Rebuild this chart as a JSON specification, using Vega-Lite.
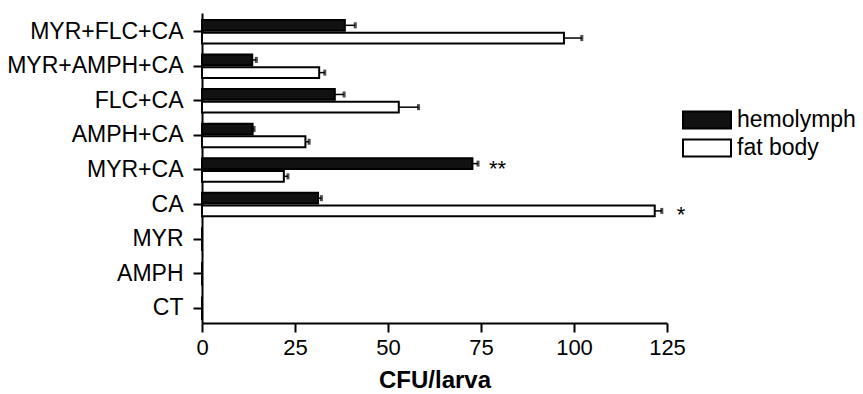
{
  "$schema": "https://vega.github.io/schema/vega-lite/v6.json",
  "width": 465,
  "height": 310,
  "autosize": "none",
  "padding": {"left": 202, "top": 13, "right": 196, "bottom": 71},
  "background": "white",
  "config": {
    "view": {"stroke": null},
    "font": "Liberation Sans",
    "axis": {
      "grid": false,
      "domainColor": "black",
      "domainWidth": 2,
      "tickColor": "black",
      "tickWidth": 2,
      "tickSize": 9,
      "labelColor": "black",
      "labelFont": "Liberation Sans",
      "labelFontSize": 23,
      "titleColor": "black",
      "titleFont": "Liberation Sans"
    }
  },
  "data": {
    "values": [
      {"cond": "MYR+FLC+CA", "series": "hemolymph", "value": 38.4, "err": 41.2, "sig": ""},
      {"cond": "MYR+FLC+CA", "series": "fat body", "value": 97.3, "err": 102.1, "sig": ""},
      {"cond": "MYR+AMPH+CA\u00a0", "series": "hemolymph", "value": 13.5, "err": 14.6, "sig": ""},
      {"cond": "MYR+AMPH+CA\u00a0", "series": "fat body", "value": 31.5, "err": 33.0, "sig": ""},
      {"cond": "FLC+CA", "series": "hemolymph", "value": 35.7, "err": 38.2, "sig": ""},
      {"cond": "FLC+CA", "series": "fat body", "value": 52.9, "err": 58.2, "sig": ""},
      {"cond": "AMPH+CA", "series": "hemolymph", "value": 13.6, "err": 14.0, "sig": ""},
      {"cond": "AMPH+CA", "series": "fat body", "value": 27.8, "err": 28.8, "sig": ""},
      {"cond": "MYR+CA", "series": "hemolymph", "value": 72.7, "err": 74.2, "sig": "**"},
      {"cond": "MYR+CA", "series": "fat body", "value": 22.0, "err": 23.1, "sig": ""},
      {"cond": "CA", "series": "hemolymph", "value": 31.2, "err": 32.1, "sig": ""},
      {"cond": "CA", "series": "fat body", "value": 121.7, "err": 123.6, "sig": "*"},
      {"cond": "MYR", "series": "hemolymph", "value": 0, "err": 0, "sig": ""},
      {"cond": "MYR", "series": "fat body", "value": 0, "err": 0, "sig": ""},
      {"cond": "AMPH", "series": "hemolymph", "value": 0, "err": 0, "sig": ""},
      {"cond": "AMPH", "series": "fat body", "value": 0, "err": 0, "sig": ""},
      {"cond": "CT", "series": "hemolymph", "value": 0, "err": 0, "sig": ""},
      {"cond": "CT", "series": "fat body", "value": 0, "err": 0, "sig": ""}
    ]
  },
  "encoding": {
    "y": {
      "field": "cond",
      "type": "nominal",
      "sort": ["MYR+FLC+CA", "MYR+AMPH+CA\u00a0", "FLC+CA", "AMPH+CA", "MYR+CA", "CA", "MYR", "AMPH", "CT"],
      "scale": {"paddingInner": 0.32, "paddingOuter": 0.143, "align": 0.7},
      "axis": {"title": null, "labelPadding": 10}
    },
    "yOffset": {
      "field": "series",
      "type": "nominal",
      "sort": ["hemolymph", "fat body"],
      "scale": {"paddingInner": 0.15, "paddingOuter": 0}
    }
  },
  "layer": [
    {
      "mark": {"type": "bar", "stroke": "black", "strokeWidth": 2},
      "encoding": {
        "x": {
          "field": "value",
          "type": "quantitative",
          "scale": {"domain": [0, 125], "nice": false, "zero": true},
          "axis": {
            "values": [0, 25, 50, 75, 100, 125],
            "title": "CFU/larva",
            "titleFontSize": 24,
            "titleFontWeight": "bold",
            "titlePadding": 10,
            "labelPadding": 5,
            "labelFontSize": 22,
            "labelFlush": false
          }
        },
        "fill": {
          "field": "series",
          "type": "nominal",
          "scale": {"domain": ["hemolymph", "fat body"], "range": ["#111111", "#ffffff"]},
          "legend": {
            "orient": "none",
            "legendX": 492,
            "legendY": 94,
            "title": null,
            "symbolType": "M-2,-0.708L2,-0.708L2,0.708L-2,0.708Z",
            "symbolSize": 576,
            "symbolStrokeColor": "black",
            "symbolStrokeWidth": 2,
            "symbolOpacity": 1,
            "labelFontSize": 23,
            "labelFont": "Liberation Sans",
            "labelColor": "black",
            "labelOffset": 17,
            "rowPadding": 2
          }
        }
      }
    },
    {
      "transform": [{"filter": "datum.err > datum.value"}],
      "mark": {"type": "rule", "color": "black", "strokeWidth": 1.5},
      "encoding": {
        "x": {"field": "value", "type": "quantitative"},
        "x2": {"field": "err"}
      }
    },
    {
      "transform": [{"filter": "datum.err > datum.value"}],
      "mark": {"type": "tick", "color": "black", "size": 6, "thickness": 3, "orient": "vertical"},
      "encoding": {
        "x": {"field": "err", "type": "quantitative"}
      }
    },
    {
      "transform": [{"filter": "datum.sig == '**'"}],
      "mark": {"type": "text", "align": "left", "baseline": "middle", "dx": 11, "dy": 5, "fontSize": 22, "color": "black"},
      "encoding": {
        "x": {"field": "err", "type": "quantitative"},
        "text": {"field": "sig"}
      }
    },
    {
      "transform": [{"filter": "datum.sig == '*'"}],
      "mark": {"type": "text", "align": "left", "baseline": "middle", "dx": 15, "dy": 4, "fontSize": 22, "color": "black"},
      "encoding": {
        "x": {"field": "err", "type": "quantitative"},
        "text": {"field": "sig"}
      }
    }
  ]
}
